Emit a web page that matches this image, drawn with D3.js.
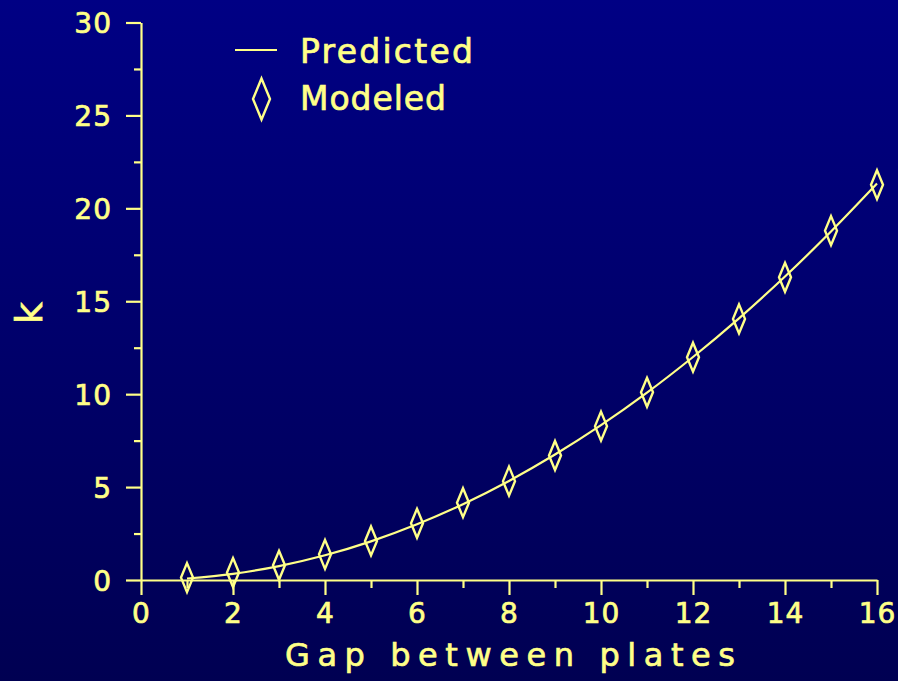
<!DOCTYPE html>
<html>
<head>
<meta charset="utf-8">
<script src="https://cdn.jsdelivr.net/npm/d3@7"></script>
<style>
html,body{margin:0;padding:0;background:#000070;}
svg{display:block;}
</style>
</head>
<body>
<svg id="chart" width="898" height="681"></svg>
<script>
// ---- data ----
const gaps = [1,2,3,4,5,6,7,8,9,10,11,12,13,14,15,16];
const predicted = [0.08,0.33,0.75,1.33,2.08,3.0,4.08,5.33,6.75,8.33,10.08,12.0,14.08,16.33,18.75,21.33];
const modeled = [0.13,0.40,0.79,1.38,2.10,3.05,4.16,5.32,6.70,8.28,10.1,11.99,14.05,16.29,18.8,21.27];
const xMajorTicks = [0,2,4,6,8,10,12,14,16];
const xMinorTicks = [1,3,5,7,9,11,13,15];
const yMajorTicks = [0,5,10,15,20,25,30];
const yMinorTicks = [2.5,7.5,12.5,17.5,22.5,27.5];
const legendLabels = ["Predicted","Modeled"];
const xTitle = "Gap between plates";
const yTitle = "k";

const W = 898, H = 681;
const col = "#ffff88";
const font = "'DejaVu Sans', sans-serif";

const svg = d3.select("#chart");
const defs = svg.append("defs");
const grad = defs.append("linearGradient").attr("id","bg").attr("x1",0).attr("y1",0).attr("x2",0).attr("y2",1);
grad.append("stop").attr("offset","0%").attr("stop-color","#000084");
grad.append("stop").attr("offset","100%").attr("stop-color","#000052");
svg.append("rect").attr("width",W).attr("height",H).attr("fill","url(#bg)");

const x = d3.scaleLinear().domain([0,16]).range([141,877]);
const y = d3.scaleLinear().domain([0,30]).range([580,22.5]);

function boldText(sel){
  sel.attr("fill",col).attr("stroke",col).attr("stroke-width",0.7).attr("font-family",font);
}
function styleAxis(g){
  g.selectAll("path.domain").attr("stroke",col).attr("stroke-width",2.2);
  g.selectAll(".tick line").attr("stroke",col).attr("stroke-width",2.2);
  g.selectAll(".tick text").call(boldText).attr("font-size",28);
}

// y axis
const gy = svg.append("g").attr("transform",`translate(${x(0)},0)`)
  .call(d3.axisLeft(y).tickValues(yMajorTicks).tickSize(15).tickSizeOuter(0).tickPadding(14).tickFormat(d3.format("d")));
styleAxis(gy);
gy.selectAll(".tick text").attr("dy","0.36em").attr("letter-spacing",1);
const gym = svg.append("g").attr("transform",`translate(${x(0)},0)`)
  .call(d3.axisLeft(y).tickValues(yMinorTicks).tickSize(7).tickSizeOuter(0).tickFormat(""));
styleAxis(gym);
gym.select("path.domain").remove();

// x axis
const gx = svg.append("g").attr("transform",`translate(0,${y(0)})`)
  .call(d3.axisBottom(x).tickValues(xMajorTicks).tickSize(15).tickSizeOuter(0).tickPadding(8).tickFormat(d3.format("d")));
styleAxis(gx);
gx.selectAll(".tick text").attr("letter-spacing",1);
const gxm = svg.append("g").attr("transform",`translate(0,${y(0)})`)
  .call(d3.axisBottom(x).tickValues(xMinorTicks).tickSize(8).tickSizeOuter(0).tickFormat(""));
styleAxis(gxm);
gxm.select("path.domain").remove();

// line
const line = d3.line().x((d,i)=>x(gaps[i])).y(d=>y(d)).curve(d3.curveCatmullRom);
svg.append("path").datum(predicted).attr("d",line).attr("fill","none").attr("stroke",col).attr("stroke-width",2.2);

// diamonds
function diamond(w,h){ return `M0,${-h/2}L${w/2},0L0,${h/2}L${-w/2},0Z`; }
svg.append("g").selectAll("path").data(modeled).join("path")
  .attr("transform",(d,i)=>`translate(${x(gaps[i])},${y(d)})`)
  .attr("d",diamond(12,29)).attr("fill","none").attr("stroke",col).attr("stroke-width",2.4);

// legend
const lg = svg.append("g");
lg.append("line").attr("x1",235).attr("x2",277).attr("y1",50).attr("y2",50).attr("stroke",col).attr("stroke-width",2.2);
lg.append("path").attr("transform","translate(261.5,99)").attr("d",diamond(17,41)).attr("fill","none").attr("stroke",col).attr("stroke-width",2.4);
lg.append("text").attr("x",300).attr("y",63).text(legendLabels[0])
  .call(boldText).attr("font-size",33).attr("textLength",173).attr("lengthAdjust","spacing");
lg.append("text").attr("x",300).attr("y",110).text(legendLabels[1])
  .call(boldText).attr("font-size",33).attr("textLength",146).attr("lengthAdjust","spacing");

// titles
svg.append("text").attr("x",285).attr("y",666).text(xTitle)
  .call(boldText).attr("font-size",32).attr("textLength",450).attr("lengthAdjust","spacing");
svg.append("text").attr("transform","translate(42,313) rotate(-90)").attr("text-anchor","middle").text(yTitle)
  .call(boldText).attr("font-size",38);
</script>
</body>
</html>
